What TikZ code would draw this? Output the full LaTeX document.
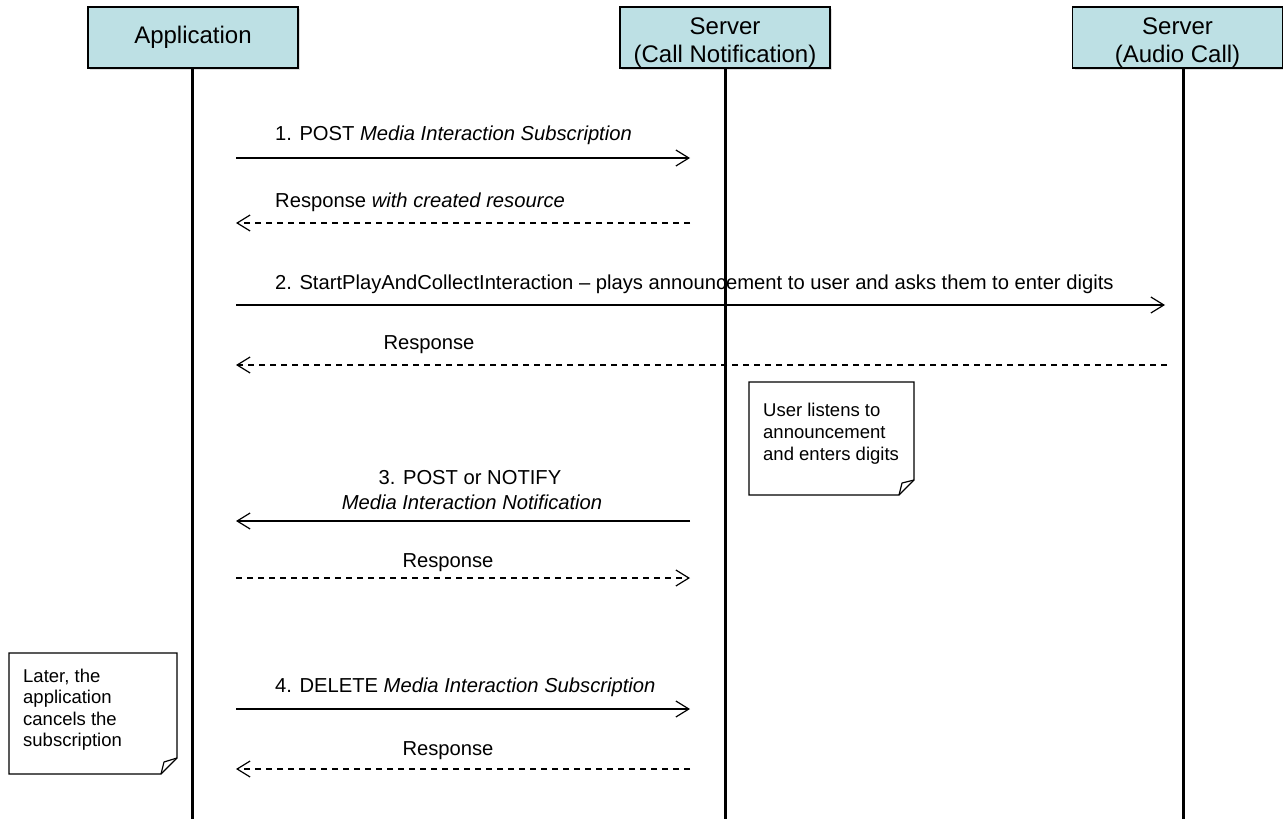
\documentclass[tikz,border=0pt]{standalone}
\usepackage{fontspec}
\setmainfont{Liberation Sans}
\usetikzlibrary{arrows.meta,shadows}
\definecolor{hdrfill}{RGB}{189,224,228}
\begin{document}
\begin{tikzpicture}[x=1pt,y=-1pt,
  hdr/.style={draw=black,line width=1.5pt,fill=hdrfill,minimum width=210pt,minimum height=61pt,inner sep=0pt,align=center,font=\fontsize{24}{28}\selectfont,drop shadow={shadow xshift=2pt,shadow yshift=-2pt,fill=black!25}},
  life/.style={line width=3pt},
  msg/.style={line width=1.2pt,-{Straight Barb[length=13pt,width=16pt]}},
  rsp/.style={msg,dash pattern=on 6pt off 5pt},
  lbl/.style={font=\fontsize{20.2}{25}\selectfont,inner sep=0pt},
  notetxt/.style={inner sep=0pt,align=left,anchor=north west},
  notebox/.style={draw=black,line width=1.2pt,fill=white}
]
\useasboundingbox (0,0) rectangle (1283,819);

% headers
\node[hdr] (app) at (193,37.5) {Application};
\node[hdr] (cn) at (725,37.5) {\rule{0pt}{26pt}Server\\(Call Notification)};
\node[hdr] (ac) at (1177.5,37.5) {\rule{0pt}{26pt}Server\\(Audio Call)};

% lifelines
\coordinate (appL) at (192,819);
\coordinate (cnL) at (725,819);
\coordinate (acL) at (1183,819);
\draw[life] (app.south -| appL) -- (appL);
\draw[life] (cn.south -| cnL) -- (cnL);
\draw[life] (ac.south -| acL) -- (acL);

% message end points
\coordinate (m1a) at (236,158);  \coordinate (m1b) at (690,158);
\coordinate (m2a) at (236,223);  \coordinate (m2b) at (690,223);
\coordinate (m3a) at (236,305);  \coordinate (m3b) at (1165,305);
\coordinate (m4a) at (236,365);  \coordinate (m4b) at (1167,365);
\coordinate (m5a) at (236,521);  \coordinate (m5b) at (690,521);
\coordinate (m6a) at (236,578);  \coordinate (m6b) at (690,578);
\coordinate (m7a) at (236,709);  \coordinate (m7b) at (690,709);
\coordinate (m8a) at (236,769);  \coordinate (m8b) at (690,769);

% messages
\draw[msg] (m1a) -- (m1b);
\node[lbl,anchor=base west] (l1) at (275,140) {1. POST \textit{Media Interaction Subscription}};

\draw[rsp] (m2b) -- (m2a);
\node[lbl,anchor=base west] (l2) at (275,207) {Response \textit{with created resource}};

\draw[msg] (m3a) -- (m3b);
\node[lbl,anchor=base west] (l3) at (275,289) {2. StartPlayAndCollectInteraction – plays announcement to user and asks them to enter digits};

\draw[rsp] (m4b) -- (m4a);
\node[lbl,anchor=base] (l4) at (429,349) {Response};

\draw[msg] (m5b) -- (m5a);
\node[lbl,anchor=base] (l5a) at (470,484) {3. POST or NOTIFY};
\node[lbl,anchor=base] (l5b) at (472,509) {\textit{Media Interaction Notification}};

\draw[rsp] (m6a) -- (m6b);
\node[lbl,anchor=base] (l6) at (448,567) {Response};

\draw[msg] (m7a) -- (m7b);
\node[lbl,anchor=base west] (l7) at (275,692) {4. DELETE \textit{Media Interaction Subscription}};

\draw[rsp] (m8b) -- (m8a);
\node[lbl,anchor=base] (l8) at (448,755) {Response};

% note 1
\draw[notebox] (749,382) -- (914,382) -- (914,480) -- (899,495) -- (749,495) -- cycle;
\draw[line width=1.2pt,line join=round] (899,495) -- (902,483) -- (914,480);
\node[notetxt,font=\fontsize{18.5}{22}\selectfont] (n1) at (763,403) {User listens to\\announcement\\and enters digits};

% note 2
\draw[notebox] (9,653) -- (177,653) -- (177,758) -- (161,774) -- (9,774) -- cycle;
\draw[line width=1.2pt,line join=round] (161,774) -- (164,762) -- (177,758);
\node[notetxt,font=\fontsize{18.5}{21.5}\selectfont] (n2) at (23,668.5) {Later, the\\application\\cancels the\\subscription};
\end{tikzpicture}
\end{document}
